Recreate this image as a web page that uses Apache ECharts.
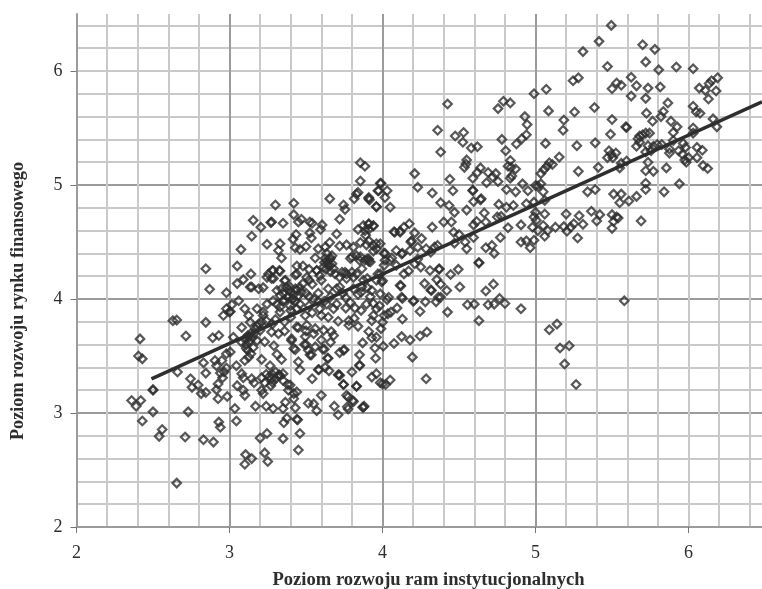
<!DOCTYPE html>
<html><head><meta charset="utf-8">
<style>html,body{margin:0;padding:0;background:#fff}#c{width:762px;height:589px}</style>
<script src="https://cdn.jsdelivr.net/npm/echarts@6/dist/echarts.min.js"></script>
</head><body><div id="c"></div>
<script>
const xTitle = "Poziom rozwoju ram instytucjonalnych";
const yTitle = "Poziom rozwoju rynku finansowego";
const majorTicks = [2,3,4,5,6];
const trendLine = [[2.49,3.30],[6.48,5.73]];

const pointsTopRight = [[5.495,6.40],[5.415,6.26],[5.31,6.17],[5.70,6.23],[5.78,6.19],[5.47,6.04],[5.72,6.08],[5.805,6.01],[5.92,6.035],[6.03,6.02],[6.19,5.94],[6.15,5.915],[6.135,5.89],[6.11,5.83],[6.07,5.85],[6.18,5.825],[6.13,5.755],[5.625,5.945],[5.53,5.895],[5.56,5.875],[5.50,5.845],[5.66,5.87],[5.735,5.85],[5.815,5.86],[5.625,5.78],[5.72,5.76],[5.865,5.72],[5.28,5.94],[5.245,5.915],[5.07,5.84],[4.99,5.80],[4.79,5.735],[4.835,5.72],[4.755,5.67],[4.425,5.71],[5.085,5.65],[5.255,5.64],[5.385,5.68],[4.93,5.60],[4.945,5.53],[5.185,5.57],[5.18,5.48],[5.50,5.575],[5.59,5.51],[5.595,5.505],[5.725,5.63],[5.765,5.56],[5.835,5.645],[5.82,5.60],[5.885,5.56],[6.03,5.69],[6.05,5.64],[6.075,5.63],[5.925,5.51],[5.90,5.46],[6.16,5.58],[6.185,5.51],[6.03,5.50],[6.03,5.455],[5.49,5.445],[4.36,5.48],[4.53,5.46],[4.475,5.43],[4.525,5.375],[4.78,5.40],[4.94,5.44],[4.91,5.405],[4.875,5.36],[5.065,5.365],[4.58,5.325],[4.62,5.335],[4.38,5.29],[4.805,5.30],[5.27,5.345],[5.39,5.37]];
const pointsRightBand = [[5.745,5.455],[5.72,5.455],[5.70,5.44],[5.68,5.43],[5.67,5.405],[5.68,5.375],[5.66,5.34],[5.735,5.345],[5.77,5.34],[5.795,5.355],[5.825,5.355],[5.755,5.30],[5.72,5.29],[5.875,5.315],[5.875,5.28],[5.90,5.39],[5.935,5.30],[5.965,5.365],[5.98,5.33],[5.96,5.27],[6.055,5.33],[6.09,5.305],[6.055,5.24],[6.00,5.24],[5.985,5.20],[5.975,5.22],[6.095,5.17],[6.125,5.145],[5.48,5.30],[5.525,5.28],[5.495,5.27],[5.47,5.24],[5.505,5.24],[5.595,5.21],[5.56,5.19],[5.55,5.15],[5.41,5.155],[5.28,5.12],[5.735,5.20],[5.72,5.125],[5.77,5.12],[5.855,5.15],[5.72,5.015],[5.72,4.96],[5.84,4.94],[5.94,5.01],[5.66,4.90],[5.61,4.86],[5.55,4.845],[5.56,4.92],[5.51,4.92],[5.39,4.96],[5.34,4.94],[5.69,4.685],[5.50,4.74],[5.53,4.72],[5.54,4.71],[5.51,4.68],[5.50,4.62],[5.365,4.77],[5.42,4.74],[5.40,4.685],[5.285,4.73],[5.31,4.655],[5.25,4.66],[5.23,4.63],[5.205,4.595],[5.20,4.745],[5.185,4.635],[5.13,4.63],[5.275,4.535]];
const pointsMiddleRight = [[5.155,5.245],[5.11,5.18],[5.09,5.195],[5.075,5.165],[5.055,5.135],[5.035,5.10],[5.015,4.99],[5.0,4.995],[5.035,5.01],[5.05,4.94],[4.95,4.95],[4.915,5.01],[4.87,4.94],[4.81,4.96],[4.87,5.14],[4.835,5.215],[4.82,5.165],[4.84,5.155],[4.845,5.08],[4.835,5.06],[4.64,5.15],[4.62,5.11],[4.59,5.06],[4.69,5.11],[4.74,5.10],[4.72,5.07],[4.755,5.03],[4.68,5.02],[4.55,5.22],[4.545,5.185],[4.535,5.155],[4.44,5.05],[4.21,5.10],[4.23,4.98],[4.325,4.93],[4.46,4.95],[4.59,4.95],[4.59,4.955],[4.645,4.88],[4.64,4.87],[4.595,4.855],[4.38,4.845],[4.435,4.82],[4.47,4.76],[4.55,4.78],[4.665,4.755],[4.76,4.83],[4.81,4.805],[4.855,4.82],[4.94,4.835],[4.99,4.85],[5.06,4.865],[4.75,4.72],[4.775,4.725],[5.0,4.76],[4.99,4.72],[5.06,4.745],[5.005,4.69],[4.98,4.63],[5.015,4.60],[5.05,4.645],[5.08,4.60],[5.06,4.55],[4.905,4.65],[4.82,4.625],[4.77,4.54],[4.615,4.68],[4.675,4.675],[4.595,4.65],[4.325,4.63],[4.40,4.675],[4.45,4.675],[4.465,4.585],[4.50,4.565],[4.595,4.54],[4.54,4.50],[4.55,4.44],[4.47,4.49],[4.905,4.50],[4.94,4.51],[4.99,4.515],[4.965,4.45],[4.675,4.45],[4.715,4.47],[4.73,4.40]];
const pointsCentreRight = [[4.175,4.66],[4.14,4.63],[4.075,4.59],[4.115,4.595],[4.21,4.58],[4.255,4.53],[4.185,4.50],[4.23,4.455],[4.36,4.47],[4.34,4.455],[4.315,4.41],[4.285,4.44],[4.18,4.425],[4.13,4.40],[4.09,4.425],[4.01,4.40],[4.06,4.36],[4.23,4.35],[4.09,4.295],[4.21,4.31],[4.25,4.28],[4.31,4.25],[4.37,4.265],[4.37,4.26],[4.445,4.215],[4.495,4.26],[4.63,4.32],[4.63,4.315],[4.14,4.22],[4.17,4.245],[4.275,4.135],[4.355,4.17],[4.38,4.13],[4.42,4.075],[4.315,4.08],[4.505,4.105],[4.725,4.13],[4.675,4.07],[4.12,4.115],[4.0,4.16],[4.01,4.295],[3.99,5.015],[3.975,4.95],[4.03,4.95],[4.016,4.89],[3.91,4.88],[3.96,4.81],[4.05,4.805],[3.91,4.66],[3.94,4.645],[3.91,4.51],[3.94,4.47],[3.985,4.485],[4.016,4.40],[4.125,4.395],[4.19,4.51],[4.05,4.34],[4.016,4.34],[3.91,4.35],[3.91,4.33],[3.985,4.22],[3.995,4.15],[4.115,4.12],[4.32,4.075],[3.93,4.075],[3.985,4.045],[4.04,4.015],[4.125,4.015],[4.365,4.015],[4.08,4.585],[4.115,4.585]];
const pointsLowerRight = [[5.58,3.985],[4.03,3.995],[4.13,4.005],[4.20,3.98],[4.205,3.985],[4.28,3.975],[4.35,3.975],[4.38,4.015],[4.425,3.885],[4.555,3.95],[4.60,3.955],[4.69,3.95],[4.73,3.955],[4.765,4.005],[4.80,3.96],[4.905,3.915],[4.63,3.81],[5.09,3.73],[5.14,3.78],[5.16,3.57],[5.22,3.59],[5.19,3.43],[5.265,3.25],[4.095,3.92],[4.055,3.885],[4.035,3.87],[4.01,3.855],[4.13,3.825],[4.245,3.89],[4.0,3.795],[3.99,3.74],[4.125,3.67],[4.075,3.61],[4.18,3.64],[4.245,3.675],[4.29,3.71],[4.195,3.49],[4.005,3.585],[4.285,3.30],[4.05,3.29],[4.02,3.25],[4.0,3.255]];
const pointsUpperLeft = [[3.855,5.195],[3.885,5.165],[3.855,5.035],[3.84,4.935],[3.815,4.88],[3.83,4.92],[3.91,4.89],[3.915,4.87],[3.96,4.81],[3.97,4.95],[3.985,5.015],[3.655,4.88],[3.745,4.825],[3.755,4.785],[3.72,4.70],[3.30,4.825],[3.42,4.84],[3.42,4.74],[3.47,4.70],[3.45,4.675],[3.155,4.69],[3.205,4.63],[3.275,4.675],[3.27,4.67],[3.35,4.665],[3.525,4.675],[3.54,4.665],[3.605,4.65],[3.525,4.58],[3.595,4.61],[3.535,4.535],[3.70,4.57],[3.145,4.55],[3.245,4.48],[3.33,4.485],[3.435,4.565],[3.415,4.525],[3.075,4.435],[3.32,4.425],[3.34,4.36],[3.43,4.45],[3.46,4.435],[3.50,4.46],[3.58,4.44],[3.625,4.455],[3.655,4.495],[3.72,4.465],[3.765,4.475],[3.81,4.455],[3.855,4.495],[3.895,4.475],[3.96,4.44],[3.84,4.61],[3.875,4.645],[3.91,4.655],[3.94,4.64],[3.885,4.60],[3.91,4.61],[3.89,4.56],[3.56,4.36],[3.635,4.40],[3.625,4.355],[3.655,4.35],[3.645,4.31],[3.68,4.265],[3.615,4.28],[3.57,4.25],[3.59,4.205],[3.67,4.38],[3.79,4.355],[3.83,4.38],[3.855,4.37],[3.885,4.34],[3.92,4.325],[3.94,4.42],[3.96,4.485],[3.865,4.265],[3.80,4.235],[3.765,4.22],[3.735,4.235],[3.72,4.19],[3.97,4.22],[3.96,4.165]];
const pointsDenseBlob = [[2.845,4.265],[2.87,4.085],[2.98,4.055],[3.05,4.29],[3.05,4.135],[3.09,4.17],[3.14,4.22],[3.135,4.105],[3.19,4.09],[3.22,4.10],[3.245,4.19],[3.28,4.25],[3.285,4.25],[3.33,4.245],[3.275,4.18],[3.31,4.075],[3.365,4.165],[3.395,4.105],[3.43,4.09],[3.44,4.29],[3.48,4.29],[3.44,4.22],[3.505,4.19],[3.48,4.135],[3.58,4.05],[3.645,4.09],[3.70,4.09],[3.81,4.09],[3.865,4.105],[3.765,4.18],[3.81,4.19],[3.875,4.165],[3.35,4.05],[3.38,4.02],[3.40,4.06],[3.42,4.04],[3.44,4.08],[3.37,4.10],[3.45,4.03],[3.47,4.06],[3.33,4.03],[3.36,3.99],[3.41,4.0],[3.43,3.98],[3.50,4.05],[3.52,4.02],[3.55,4.0],[3.58,3.98],[3.39,4.08],[3.34,4.09],[3.46,4.10],[3.255,4.22],[3.325,4.25],[3.287,4.18],[3.36,4.16],[3.43,4.21],[3.57,4.25],[3.60,4.165],[3.52,4.165],[3.72,4.105],[3.755,4.235],[3.83,4.22],[3.90,4.18],[3.80,4.37],[3.85,4.34],[3.90,4.35],[3.145,4.105]];
const pointsLeft = [[2.655,3.815],[2.63,3.81],[2.845,3.795],[2.415,3.65],[2.405,3.50],[2.43,3.475],[2.715,3.675],[2.50,3.205],[2.50,3.2],[2.66,3.36],[2.36,3.11],[2.39,3.06],[2.42,3.11],[2.43,2.93],[2.50,3.01],[2.56,2.855],[2.54,2.795],[2.73,3.01],[2.71,2.79],[2.83,2.765],[2.895,2.745],[2.655,2.385],[2.745,3.30],[2.755,3.225],[2.795,3.245],[2.815,3.17],[2.845,3.18],[2.83,3.44],[2.845,3.35],[2.89,3.66],[2.93,3.68],[2.905,3.46],[2.915,3.415],[2.95,3.46],[2.965,3.36],[2.94,3.35],[2.955,3.31],[2.925,3.255],[2.915,3.205],[2.925,3.125],[2.985,3.145],[2.93,2.92],[2.94,2.875],[3.035,3.04],[3.045,2.93],[2.98,3.52],[3.005,3.535],[2.98,3.395],[3.045,3.415],[3.08,3.345],[3.09,3.31],[3.05,3.24],[3.09,3.20],[3.10,3.155],[3.145,3.30],[3.16,3.265],[3.21,3.31],[3.21,3.47],[3.265,3.415],[3.23,3.265],[3.21,3.20],[3.22,3.17],[3.17,3.06],[3.24,3.06],[3.285,3.04],[3.105,2.635],[3.145,2.60],[3.10,2.55],[3.23,2.65],[3.25,2.575],[3.20,2.78],[3.245,2.82],[3.35,2.775],[3.46,2.82],[3.45,2.675],[3.445,2.94],[3.44,2.945],[3.375,2.955],[3.355,2.915],[3.35,3.04],[3.365,3.095],[3.42,3.125],[3.44,3.185],[3.42,3.17],[3.43,3.045],[3.385,3.20],[3.38,3.25],[3.32,3.33],[3.325,3.335],[3.33,3.325],[3.30,3.30],[3.35,3.345],[3.35,3.285],[3.275,3.30]];
const pointsLowerCentre = [[3.515,3.085],[3.55,3.08],[3.57,3.02],[3.60,3.155],[3.685,3.06],[3.71,2.985],[3.775,3.035],[3.805,3.11],[3.765,3.155],[3.775,3.14],[3.875,3.05],[3.83,3.235],[3.745,3.25],[3.715,3.335],[3.72,3.33],[3.71,3.335],[3.80,3.36],[3.65,3.37],[3.625,3.40],[3.645,3.48],[3.585,3.38],[3.54,3.30],[3.45,3.45],[3.46,3.38],[3.85,3.415],[3.85,3.51],[3.955,3.48],[3.93,3.315],[3.96,3.345],[3.985,3.265],[3.72,3.53],[3.75,3.555],[3.87,3.615],[3.62,3.56],[3.495,3.67],[3.50,3.60],[3.515,3.55],[3.535,3.51],[3.56,3.58],[3.405,3.635],[3.43,3.555],[3.36,3.72],[3.32,3.695],[3.275,3.71],[3.23,3.625],[3.29,3.59],[3.31,3.515],[3.34,3.47],[3.125,3.665],[3.11,3.565],[3.10,3.46],[3.125,3.49],[3.08,3.75],[3.135,3.795],[3.125,3.855],[3.10,3.915],[3.18,3.915],[3.025,3.665],[2.96,3.855],[3.0,3.885],[3.005,3.89],[2.98,3.915],[3.06,3.985],[3.015,3.95],[3.22,3.855],[3.24,3.81],[3.20,3.725],[3.155,3.575],[3.18,3.635],[3.45,3.75],[3.495,3.855],[3.46,3.955],[3.44,3.915],[3.505,3.77],[3.56,3.74],[3.615,3.725],[3.665,3.715],[3.55,3.695],[3.71,3.805],[3.78,3.81],[3.815,3.83],[3.84,3.76],[3.78,3.77],[3.93,3.81],[3.94,3.855],[3.91,3.715],[3.96,3.665],[3.60,3.855],[3.645,3.84],[3.68,3.915],[3.59,3.915],[3.635,3.955],[3.70,3.955],[3.79,3.97],[3.895,3.955],[3.96,3.915],[3.31,3.955],[3.35,3.985],[3.395,3.94],[3.415,4.0],[3.385,4.015],[3.33,3.93],[3.22,3.885],[3.245,3.955],[3.285,3.985],[3.33,3.885],[3.44,3.755],[3.406,3.65],[3.42,3.565],[3.49,3.60],[3.526,3.51],[3.61,3.56],[3.64,3.48],[3.58,3.38],[3.745,3.55],[3.85,3.42],[3.745,3.25],[3.83,3.235],[3.81,3.10],[3.88,3.06],[3.77,3.055],[3.396,3.245],[3.87,3.05],[3.93,3.66],[3.95,3.57]];
const pointsDarkPatches = [[3.08,3.62],[3.10,3.65],[3.12,3.68],[3.14,3.70],[3.11,3.60],[3.13,3.63],[3.15,3.66],[3.17,3.74],[3.19,3.78],[3.21,3.80],[3.16,3.70],[3.18,3.76],[3.12,3.55],[3.14,3.52],[3.24,3.34],[3.26,3.32],[3.28,3.34],[3.30,3.36],[3.28,3.27],[3.27,3.24],[3.64,4.33],[3.65,4.29],[3.66,4.36],[3.62,4.32],[3.63,4.26],[3.66,4.24],[3.67,4.31],[3.69,4.22],[3.52,4.26],[3.54,4.13],[3.62,3.98],[3.66,4.02],[3.74,4.05],[3.76,4.01],[3.84,4.04],[3.86,4.06],[3.90,4.10],[3.92,4.02],[3.94,3.96],[3.98,3.94],[3.76,3.92],[3.82,3.92],[3.86,3.90],[3.52,3.94],[3.54,3.88],[3.40,3.84],[3.36,3.80],[3.30,3.82],[3.40,3.90],[3.28,3.78],[3.50,3.72],[3.60,3.64],[3.66,3.62],[3.68,3.68]];

const allPoints = [].concat(pointsTopRight, pointsRightBand, pointsMiddleRight, pointsCentreRight, pointsLowerRight, pointsUpperLeft, pointsDenseBlob, pointsLeft, pointsLowerCentre, pointsDarkPatches);

const serif = '"Liberation Serif","Times New Roman",serif';
const ink = '#2e2e2e';
const minorLine = {show:true, lineStyle:{color:'#c9c9c9', width:2}, showMaxLine:false};
const majorLine = {show:true, lineStyle:{color:'#9b9b9b', width:2}, showMaxLine:false};
function label(v){ return String(v); }

const chart = echarts.init(document.getElementById('c'), null, {renderer:'canvas'});
chart.setOption({
  animation:false,
  backgroundColor:'#fff',
  grid:{left:76.5, right:0, top:14, bottom:62, containLabel:false},
  xAxis:[
    {type:'value', min:2, max:6.48, interval:0.2, position:'bottom',
     axisLine:{show:false}, axisTick:{show:false}, axisLabel:{show:false}, splitLine:minorLine},
    {type:'value', min:2, max:6.48, interval:1, position:'bottom',
     axisLine:{show:true, onZero:false, lineStyle:{color:'#9b9b9b', width:2}},
     axisTick:{show:true, length:6, customValues:majorTicks, lineStyle:{color:'#777', width:1}},
     axisLabel:{show:true, customValues:majorTicks, formatter:label, color:ink, fontFamily:serif, fontSize:18, margin:17},
     splitLine:majorLine}
  ],
  yAxis:[
    {type:'value', min:2, max:6.5, interval:0.2, position:'left',
     axisLine:{show:false}, axisTick:{show:false}, axisLabel:{show:false}, splitLine:minorLine},
    {type:'value', min:2, max:6.5, interval:1, position:'left',
     axisLine:{show:true, onZero:false, lineStyle:{color:'#9b9b9b', width:2}},
     axisTick:{show:true, length:6, customValues:majorTicks, lineStyle:{color:'#777', width:1}},
     axisLabel:{show:true, customValues:majorTicks, formatter:label, color:ink, fontFamily:serif, fontSize:18, margin:14},
     splitLine:majorLine}
  ],
  series:[
    {type:'scatter', xAxisIndex:1, yAxisIndex:1, data:allPoints, symbol:'diamond', symbolSize:8.5,
     itemStyle:{color:'rgba(255,255,255,0)', borderColor:ink, borderWidth:2.2}, silent:true},
    {type:'line', xAxisIndex:1, yAxisIndex:1, data:trendLine, symbol:'none', z:5, silent:true,
     lineStyle:{color:ink, width:3.5}}
  ],
  graphic:[
    {type:'text', x:428.5, y:580, style:{text:xTitle, fill:ink, font:'bold 18.6px '+serif, align:'center', verticalAlign:'middle'}},
    {type:'text', x:18, y:301, rotation:Math.PI/2, style:{text:yTitle, fill:ink, font:'bold 18.2px '+serif, align:'center', verticalAlign:'middle'}}
  ]
});
</script></body></html>
